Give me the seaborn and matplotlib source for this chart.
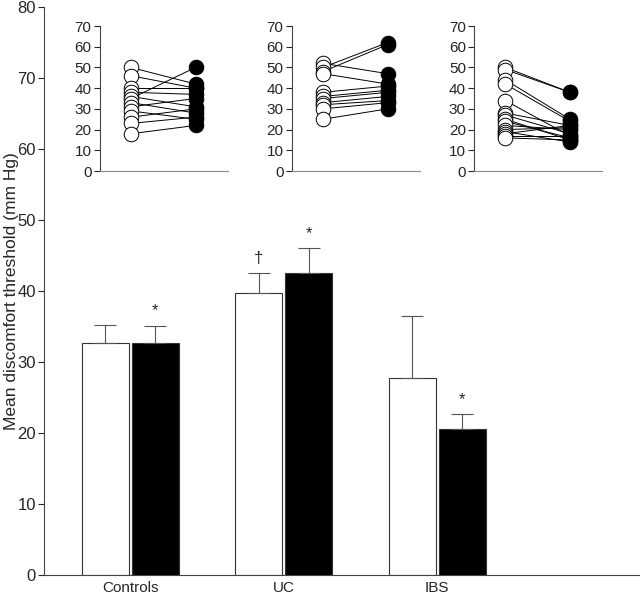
import pandas as pd
import seaborn as sns
import matplotlib.pyplot as plt

groups = ['Controls', 'UC', 'IBS']
conditions = ['before', 'after']

# bar summary values (mean and upper SEM end)
mean_before = [32.6, 39.7, 27.8]
mean_after = [32.7, 42.5, 20.6]
sem_before = [2.6, 2.8, 8.6]
sem_after = [2.4, 3.5, 2.0]
marks_before = ['', '\u2020', '']
marks_after = ['*', '*', '*']

# individual paired values for the insets
ctrl_before = [50, 46, 40, 38, 36, 35, 33, 31, 29, 26, 23, 18]
ctrl_after = [42, 40, 40, 37, 31, 50, 28, 35, 25, 30, 26, 22]
uc_before = [52, 50, 48, 47, 38, 36, 35, 33, 32, 30, 25]
uc_after = [47, 62, 61, 42, 41, 39, 38, 36, 34, 33, 30]
ibs_before = [50, 49, 44, 42, 34, 28, 27, 25, 24, 22, 20, 19, 18, 17, 16]
ibs_after = [38, 38, 25, 24, 17, 22, 18, 15, 16, 20, 21, 14, 22, 17, 15]

sns.set_style('white')
plt.rcParams['font.family'] = ['Liberation Sans', 'DejaVu Sans']

fig = plt.figure(figsize=(6.4, 5.98), dpi=100)
ax = fig.add_axes([0.069, 0.0385, 0.931, 0.95])

bars = pd.DataFrame({
    'group': groups * 2,
    'cond': ['before'] * 3 + ['after'] * 3,
    'value': mean_before + mean_after,
})
sns.barplot(data=bars, x='group', y='value', hue='cond', order=groups,
            hue_order=conditions, palette={'before': 'white', 'after': 'black'},
            width=0.65, gap=0.06, edgecolor='#333333', linewidth=0.8,
            errorbar=None, legend=False, ax=ax)

errs = sem_before + sem_after
marks = marks_before + marks_after
for p, e, m in zip(ax.patches, errs, marks):
    xc = p.get_x() + p.get_width() / 2
    top = p.get_height()
    ax.errorbar(xc, top, yerr=[[0], [e]], color='#555555', lw=0.8,
                capsize=8, capthick=0.8)
    if m:
        ax.text(xc, top + e + 1.0, m, ha='center', va='bottom', fontsize=12)

ax.set_xlim(-0.56, 3.32)
ax.set_ylim(0, 80)
ax.set_yticks(range(0, 81, 10))
ax.set_xlabel('')
ax.set_ylabel('Mean discomfort threshold (mm Hg)', fontsize=12.5)
ax.yaxis.set_label_coords(-0.042, 0.5)
ax.tick_params(axis='y', left=True, direction='out', length=4, labelsize=12,
               pad=2)
ax.tick_params(axis='x', bottom=False, labelsize=11, pad=1)
for s in ['top', 'right']:
    ax.spines[s].set_visible(False)
for s in ['left', 'bottom']:
    ax.spines[s].set_color('#444444')
    ax.spines[s].set_linewidth(0.8)

insets = [(ctrl_before, ctrl_after), (uc_before, uc_after), (ibs_before, ibs_after)]
lefts = [0.156, 0.456, 0.741]
for left, (b, a) in zip(lefts, insets):
    iax = fig.add_axes([left, 0.714, 0.2, 0.2425])
    n = len(b)
    df = pd.DataFrame({
        'subject': list(range(n)) * 2,
        'x': [0] * n + [1] * n,
        'value': b + a,
    })
    sns.lineplot(data=df, x='x', y='value', units='subject', estimator=None,
                 color='black', lw=0.7, ax=iax)
    sns.scatterplot(data=df[df.x == 0], x='x', y='value', s=110,
                    facecolor='white', edgecolor='black', linewidth=0.7,
                    zorder=3, ax=iax)
    sns.scatterplot(data=df[df.x == 1], x='x', y='value', s=110,
                    color='black', edgecolor='black', linewidth=0.7,
                    zorder=3, ax=iax)
    iax.set_xlim(-0.48, 1.5)
    iax.set_ylim(0, 70)
    iax.set_yticks(range(0, 71, 10))
    iax.set_xticks([])
    iax.set_xlabel('')
    iax.set_ylabel('')
    iax.patch.set_alpha(0)
    iax.tick_params(axis='y', left=True, direction='out', length=4, labelsize=11,
                    pad=2)
    for s in ['top', 'right']:
        iax.spines[s].set_visible(False)
    iax.spines['left'].set_color('#444444')
    iax.spines['bottom'].set_color('#888888')

fig.savefig('out.png', dpi=100)
